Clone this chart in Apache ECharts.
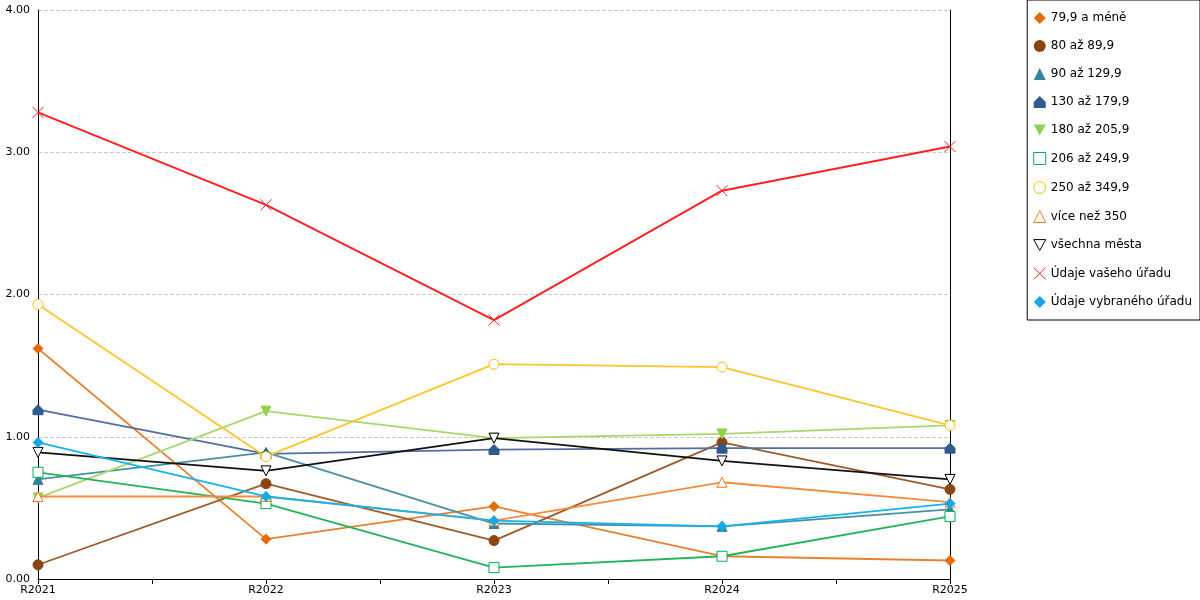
<!DOCTYPE html>
<html><head><meta charset="utf-8">
<script src="https://cdn.jsdelivr.net/npm/echarts@6/dist/echarts.min.js"></script>
<style>body{margin:0}#c{width:1200px;height:600px}</style></head>
<body><div id="c"></div>
<script>
var years = ['R2021', 'R2022', 'R2023', 'R2024', 'R2025'];
var names = ['79,9 a méně', '80 až 89,9', '90 až 129,9', '130 až 179,9', '180 až 205,9', '206 až 249,9',
    '250 až 349,9', 'více než 350', 'všechna města', 'Údaje vašeho úřadu', 'Údaje vybraného úřadu'];
var s1 = [1.62, 0.28, 0.51, 0.16, 0.13];
var s2 = [0.10, 0.67, 0.27, 0.96, 0.63];
var s3 = [0.70, 0.89, 0.39, 0.37, 0.49];
var s4 = [1.19, 0.88, 0.91, 0.92, 0.92];
var s5 = [0.57, 1.18, 0.99, 1.02, 1.08];
var s6 = [0.75, 0.53, 0.08, 0.16, 0.44];
var s7 = [1.93, 0.86, 1.51, 1.49, 1.08];
var s8 = [0.58, 0.58, 0.41, 0.68, 0.54];
var s9 = [0.89, 0.76, 0.99, 0.83, 0.70];
var s10 = [3.28, 2.63, 1.82, 2.73, 3.04];
var s11 = [0.96, 0.58, 0.41, 0.37, 0.53];
var halfTicks = ['', '', '', '', '', '', '', '', ''];

var allData = [s1, s2, s3, s4, s5, s6, s7, s8, s9, s10, s11];
var colors = ['#E36C09', '#8B4513', '#31849B', '#2E5A8C', '#92D050', '#00B050', '#FFC000', '#F57A1E', '#000000', '#FF2020', '#14A9E6'];
var lineColors = ['#E98030', '#9E5A2A', '#4A90A4', '#4F6FA0', '#A6D86A', '#22B45A', '#FFC52A', '#F58A3A', '#111111', '#FF2020', '#14B4F0'];
var house = 'path://M0,5 L5,0 L10,5 L10,10 L0,10 Z';
var symbols = ['diamond', 'circle', 'triangle', house, 'path://M0,0 L10,0 L5,9 Z', 'rect', 'circle', 'triangle',
    'path://M0,0 L10,0 L5,9 Z', 'path://M0,0 L10,10 M10,0 L0,10', 'diamond'];
var hollow = [false, false, false, false, false, true, true, true, true, true, false];

var series = [];
for (var i = 0; i < names.length; i++) {
    series.push({
        name: names[i],
        type: 'line',
        data: allData[i],
        symbol: symbols[i],
        symbolSize: i == 9 ? 11 : 10,
        showAllSymbol: true,
        lineStyle: {color: lineColors[i], width: i == 9 ? 2 : 1.8},
        itemStyle: hollow[i] ? {color: '#fff', borderColor: colors[i], borderWidth: 1} : {color: colors[i], borderColor: colors[i]},
        z: 2 + i
    });
}

var chart = echarts.init(document.getElementById('c'));
chart.setOption({
    animation: false,
    textStyle: {fontFamily: 'DejaVu Sans'},
    grid: {left: 38, right: 250, top: 10, bottom: 21},
    legend: {
        orient: 'vertical', right: 0, top: 0, width: 165, itemGap: 16,
        padding: [12, 8, 12, 6],
        borderColor: '#000', borderWidth: 1,
        itemWidth: 12, itemHeight: 12,
        textStyle: {fontSize: 12, color: '#000', fontFamily: 'DejaVu Sans'},
        data: names.map(function (n, i) {
            return {name: n, icon: symbols[i], itemStyle: hollow[i] ? {color: '#fff', borderColor: colors[i], borderWidth: 1} : {color: colors[i]}};
        })
    },
    xAxis: [{
        type: 'category', data: years, boundaryGap: false,
        axisLine: {lineStyle: {color: '#000'}},
        axisTick: {show: true, lineStyle: {color: '#000'}},
        axisLabel: {color: '#000', fontSize: 11, margin: 6, fontFamily: 'DejaVu Sans'}
    }, {
        type: 'category', data: halfTicks, boundaryGap: false, position: 'bottom',
        axisLine: {show: false}, axisLabel: {show: false},
        axisTick: {show: true, lineStyle: {color: '#000'}}
    }],
    yAxis: [{
        type: 'value', min: 0, max: 4, interval: 1,
        axisLine: {show: true, lineStyle: {color: '#000'}},
        axisTick: {show: false},
        axisLabel: {color: '#000', fontSize: 11, fontFamily: 'DejaVu Sans', formatter: function (v) { return v.toFixed(2); }},
        splitLine: {lineStyle: {color: '#ccc', type: 'dashed'}}
    }, {
        type: 'value', min: 0, max: 4, interval: 1, position: 'right',
        axisLine: {show: true, lineStyle: {color: '#000'}},
        axisTick: {show: false}, axisLabel: {show: false}, splitLine: {show: false}
    }],
    series: series
});
</script></body></html>
